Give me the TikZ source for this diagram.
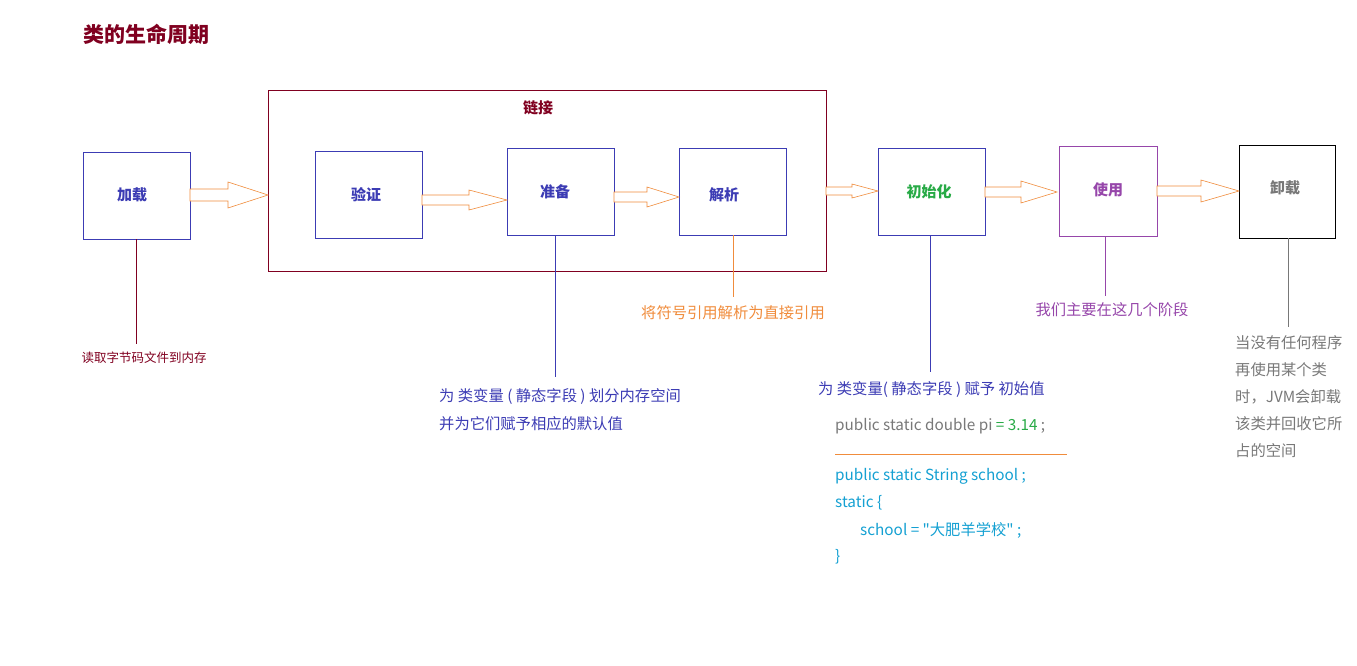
\documentclass[tikz,border=0pt]{standalone}
\usepackage{fontspec}
\setmainfont{Noto Sans CJK SC}
\newfontfamily\plainfont{Noto Sans CJK SC}
\definecolor{dred}{RGB}{128,0,32}
\definecolor{bl}{RGB}{60,60,180}
\definecolor{org}{RGB}{240,140,60}
\definecolor{grn}{RGB}{40,170,70}
\definecolor{pur}{RGB}{150,70,170}
\definecolor{gry}{RGB}{120,120,120}
\definecolor{cy}{RGB}{20,160,210}
% #1 x start, #2 x end, #3 y, #4 shaft half, #5 head half, #6 head length
\newcommand\blockarrow[6]{%
  \draw[barrow] (#1,#3-#4) -- (#2-#6,#3-#4) -- (#2-#6,#3-#5) -- (#2,#3)
   -- (#2-#6,#3+#5) -- (#2-#6,#3+#4) -- (#1,#3+#4) -- cycle;}
\begin{document}
\begin{tikzpicture}[x=1pt,y=-1pt,
  box/.style={draw=bl,line width=0.7pt},
  lab/.style={font=\fontsize{15}{18}\selectfont\bfseries,text=bl},
  barrow/.style={draw=org,fill=white,line width=0.6pt},
  txt/.style={font=\fontsize{15.3}{17}\selectfont,inner sep=0pt},
  code/.style={txt,anchor=west}]
\useasboundingbox (0,0) rectangle (1357,666);
\node[anchor=west,font=\fontsize{21}{24}\selectfont\bfseries,text=dred] (title) at (80,34) {类的生命周期};
\draw[dred,line width=0.7pt] (268,90) rectangle (826,271);
\node[font=\fontsize{15}{18}\selectfont\bfseries,text=dred] (lj) at (538,108) {链接};
\draw[box] (83,152) rectangle (190,239); \node[lab] (jz) at (132,195) {加载};
\draw[box] (315,151) rectangle (422,238); \node[lab] (yz) at (366,195) {验证};
\draw[box] (507,148) rectangle (614,235); \node[lab] (zb) at (555,192) {准备};
\draw[box] (679,148) rectangle (786,235); \node[lab] (jx) at (724,195) {解析};
\draw[box] (878,148) rectangle (985,235); \node[lab,text=grn] (csh) at (929,192) {初始化};
\draw[draw=pur,line width=0.7pt] (1059,146) rectangle (1157,236); \node[lab,text=pur] (sy) at (1108,190) {使用};
\draw[black,line width=0.7pt] (1239,145) rectangle (1335,238); \node[lab,text=gry] (xz) at (1285,188) {卸载};
\blockarrow{190}{268}{195}{6}{13}{40}
\blockarrow{422}{507}{200}{5}{10}{38}
\blockarrow{614}{679}{197}{5}{10}{32}
\blockarrow{826}{878}{191}{4}{7}{26}
\blockarrow{985}{1057}{192}{5}{11}{36}
\blockarrow{1157}{1239}{191}{5}{11}{38}
% leaders
\coordinate (e1) at (136,344); \draw[dred] (136,239) -- (e1);
\node[txt,font=\fontsize{12.5}{14}\selectfont,text=dred] (t1) at (144,358) {读取字节码文件到内存};
\coordinate (e2) at (555,377); \draw[bl] (555,235) -- (e2);
\node[code,text=bl] (t2a) at (439,397) {为 类变量 ( 静态字段 ) 划分内存空间};
\node[code,text=bl] (t2b) at (439,424) {并为它们赋予相应的默认值};
\coordinate (e3) at (733,297); \draw[org] (733,235) -- (e3);
\node[txt,text=org] (t3) at (733,313) {将符号引用解析为直接引用};
\coordinate (e4) at (930,372); \draw[bl] (930,235) -- (e4);
\node[code,text=bl] (t4) at (818,390) {为 类变量( 静态字段 ) 赋予 初始值};
\node[code,text=gry] (c1) at (835,426) {public static double pi \textcolor{grn}{=\ 3.14} ;};
\coordinate (s1) at (835,454); \coordinate (s2) at (1067,454); \draw[org] (s1) -- (s2);
\node[code,text=cy] (c2) at (835,476) {public static String school ;};
\node[code,text=cy] (c3) at (835,503) {static \{};
\node[code,text=cy] (c4) at (860,530) {\plainfont school =\ "大肥羊学校"\ ;};
\node[code,text=cy] (c5) at (835,557) {\}};
\coordinate (e5) at (1105,296); \draw[pur] (1105,236) -- (e5);
\node[txt,text=pur] (t5) at (1112,310) {我们主要在这几个阶段};
\coordinate (e6) at (1288,327); \draw[gry] (1288,238) -- (e6);
\node[code,text=gry] (u1) at (1235,343) {当没有任何程序};
\node[code,text=gry] (u2) at (1235,370) {再使用某个类};
\node[code,text=gry] (u3) at (1235,397) {时，JVM会卸载};
\node[code,text=gry] (u4) at (1235,424) {该类并回收它所};
\node[code,text=gry] (u5) at (1235,451) {占的空间};
\end{tikzpicture}
\end{document}
